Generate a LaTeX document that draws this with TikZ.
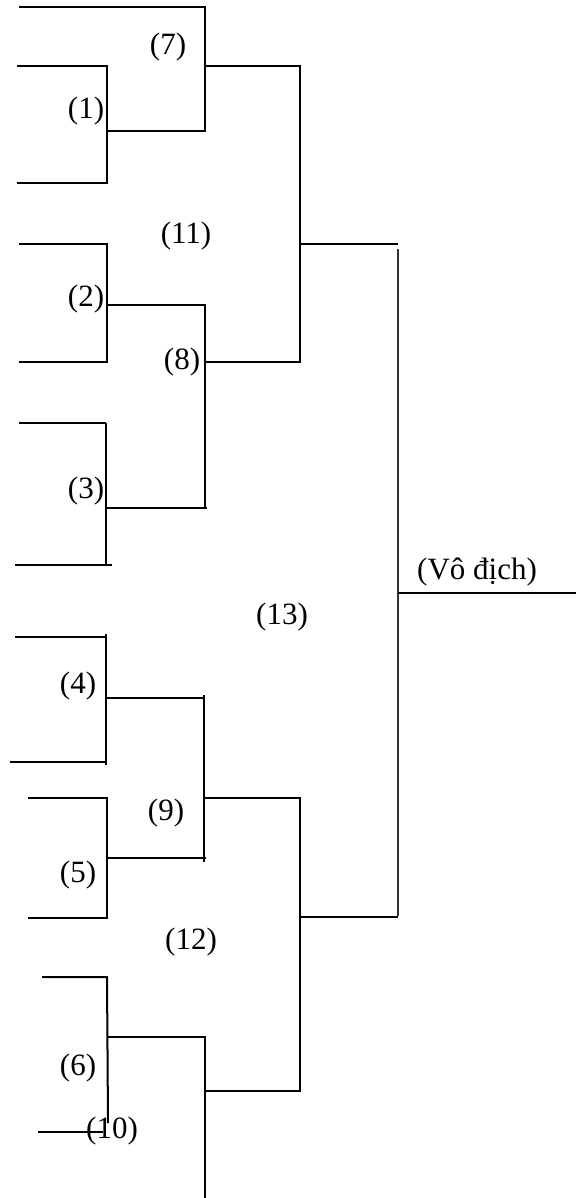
\documentclass[tikz,border=0pt]{standalone}
\usepackage{fontspec}
\setmainfont{Liberation Serif}
\usepackage{tikz}
\tikzset{
  seed/.style={line width=2pt},
  slim/.style={line width=1.2pt},
  round label/.style={inner sep=0pt,font=\fontsize{31}{36}\selectfont}
}

\begin{document}
\begin{tikzpicture}[x=1pt,y=-1pt]

  \useasboundingbox (0,0) rectangle (576,1198);

  % upper half
  \draw [seed] (19,7) -- (205,7) -- (205,131) -- (107,131);
  \draw [seed] (17,66) -- (107,66) -- (107,183) -- (17,183);
  \draw [seed] (205,66) -- (300,66) -- (300,362) -- (205,362);

  \draw [seed] (19,244) -- (107,244) -- (107,362) -- (19,362);
  \draw [seed] (107,305) -- (205,305) -- (205,508);
  \draw [slim] (107,508) -- (207,508);

  \draw [seed] (19,423) -- (106,423);
  \draw [slim] (106,423) -- (106,565);
  \draw [slim] (15,565) -- (112,565);

  % final
  \draw [slim] (300,244) -- (398,244);
  \draw [slim,black!80] (398,249) -- (398,916);
  \draw [slim] (300,917) -- (398,917);
  \draw [slim] (398,593) -- (576,593);

  % lower half
  \draw [slim] (15,637) -- (107,637);
  \draw [slim] (106,634) -- (106,765);
  \draw [slim] (10,762) -- (107,762);
  \draw [slim] (107,698) -- (204,698);
  \draw [seed] (204,695) -- (204,862);
  \draw [seed] (107,858) -- (206,858);

  \draw [seed] (204,798) -- (300,798) -- (300,1091) -- (205,1091);
  \draw [seed] (28,798) -- (107,798) -- (107,918) -- (28,918);

  \draw [seed] (42,977) -- (107,977) -- (108,1123);
  \draw [seed] (108,1037) -- (205,1037) -- (205,1198);
  \draw [seed] (38,1132) -- (103,1132);

  % match numbers
  \node [round label] (m7) at (168,47) {(7)};
  \node [round label] (m1) at (86,111) {(1)};
  \node [round label] (m11) at (186,236) {(11)};
  \node [round label] (m2) at (86,299) {(2)};
  \node [round label] (m8) at (182,362) {(8)};
  \node [round label] (m3) at (86,491) {(3)};
  \node [round label] (m13) at (282,617) {(13)};
  \node [round label] (champ) at (477,572) {(Vô địch)};
  \node [round label] (m4) at (78,686) {(4)};
  \node [round label] (m9) at (166,813) {(9)};
  \node [round label] (m5) at (78,875) {(5)};
  \node [round label] (m12) at (191,942) {(12)};
  \node [round label] (m6) at (78,1068) {(6)};
  \node [round label] (m10) at (112,1131) {(10)};

\end{tikzpicture}
\end{document}
